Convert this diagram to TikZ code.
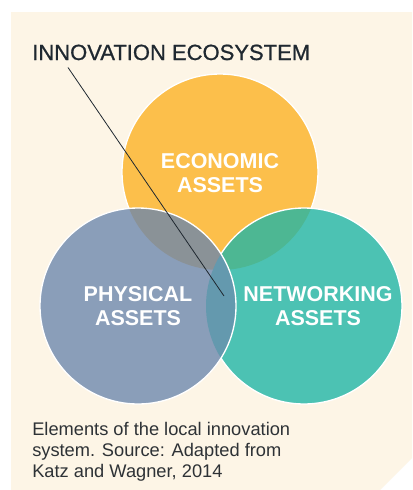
\documentclass[tikz,border=0pt]{standalone}
\usepackage{fontspec}
\setmainfont{Liberation Sans}
\newfontfamily\titlefont[FakeBold=0.8]{Liberation Sans}
\usetikzlibrary{calc,positioning}
\definecolor{cream}{HTML}{FDF5E6}
\definecolor{econyellow}{HTML}{FCBF4B}
\definecolor{physblue}{HTML}{8A9EB9}
\definecolor{netwteal}{HTML}{4CC2B3}
\definecolor{econphys}{HTML}{8A9297}
\definecolor{econnetw}{HTML}{4DB793}
\definecolor{physnetw}{HTML}{6499AE}
\definecolor{inktext}{HTML}{1F2830}
\definecolor{captiontext}{HTML}{2E3236}
\tikzset{
  assetlabel/.style={
      text=white,
      font=\fontsize{16.1}{18}\selectfont\bfseries,
      align=center,
      inner sep=0pt,
  },
  circleedge/.style={
      draw=white,
      line width=1pt,
  },
  titletext/.style={
      text=inktext,
      font=\fontsize{16.5}{20}\selectfont\titlefont,
      inner sep=0pt,
  },
  captionbox/.style={
      text=captiontext,
      font=\fontsize{13.7}{15.75}\selectfont,
      align=left,
      inner sep=0pt,
  },
  pointerline/.style={
      draw=inktext,
      line width=0.6pt,
  },
}
\newcommand{\econcircle}{(220,172) circle[radius=98]}
\newcommand{\physcircle}{(138,306) circle[radius=98]}
\newcommand{\netwcircle}{(304,306) circle[radius=98]}

\begin{document}
\begin{tikzpicture}[x=0.75pt,y=-0.75pt]
  \useasboundingbox (0,0) rectangle (412,490);
  \fill[white] (0,0) rectangle (412,490);
  \fill[cream] (11,12) -- (412,12) -- (412,458) -- (380,490) -- (11,490) -- cycle;

  % the three sets
  \fill[econyellow] \econcircle;
  \draw[circleedge] \econcircle;
  \fill[netwteal] \netwcircle;
  \begin{scope}
    \clip \netwcircle;
    \fill[econnetw] \econcircle;
  \end{scope}
  \draw[circleedge] \netwcircle;
  \fill[physblue] \physcircle;
  \begin{scope}
    \clip \physcircle;
    \fill[econphys] \econcircle;
    \fill[physnetw] \netwcircle;
  \end{scope}
  \draw[circleedge] \physcircle;

  \node[assetlabel] (econlabel) at (220,173.5) {ECONOMIC\\ASSETS};
  \node[assetlabel] (physlabel) at (138,306.5) {PHYSICAL\\ASSETS};
  \node[assetlabel] (netwlabel) at (318,306.5) {NETWORKING\\ASSETS};

  \node[titletext, anchor=base west] (title) at (32,60) {INNOVATION ECOSYSTEM};
  \coordinate (pin) at (224,296);
  \draw[pointerline] ($(title.south west)+(36,7)$) -- (pin);

  \node[captionbox, anchor=north west] (caption) at (32,422)
    {Elements of the local innovation\\system. Source: Adapted from\\Katz and Wagner, 2014};
\end{tikzpicture}
\end{document}
